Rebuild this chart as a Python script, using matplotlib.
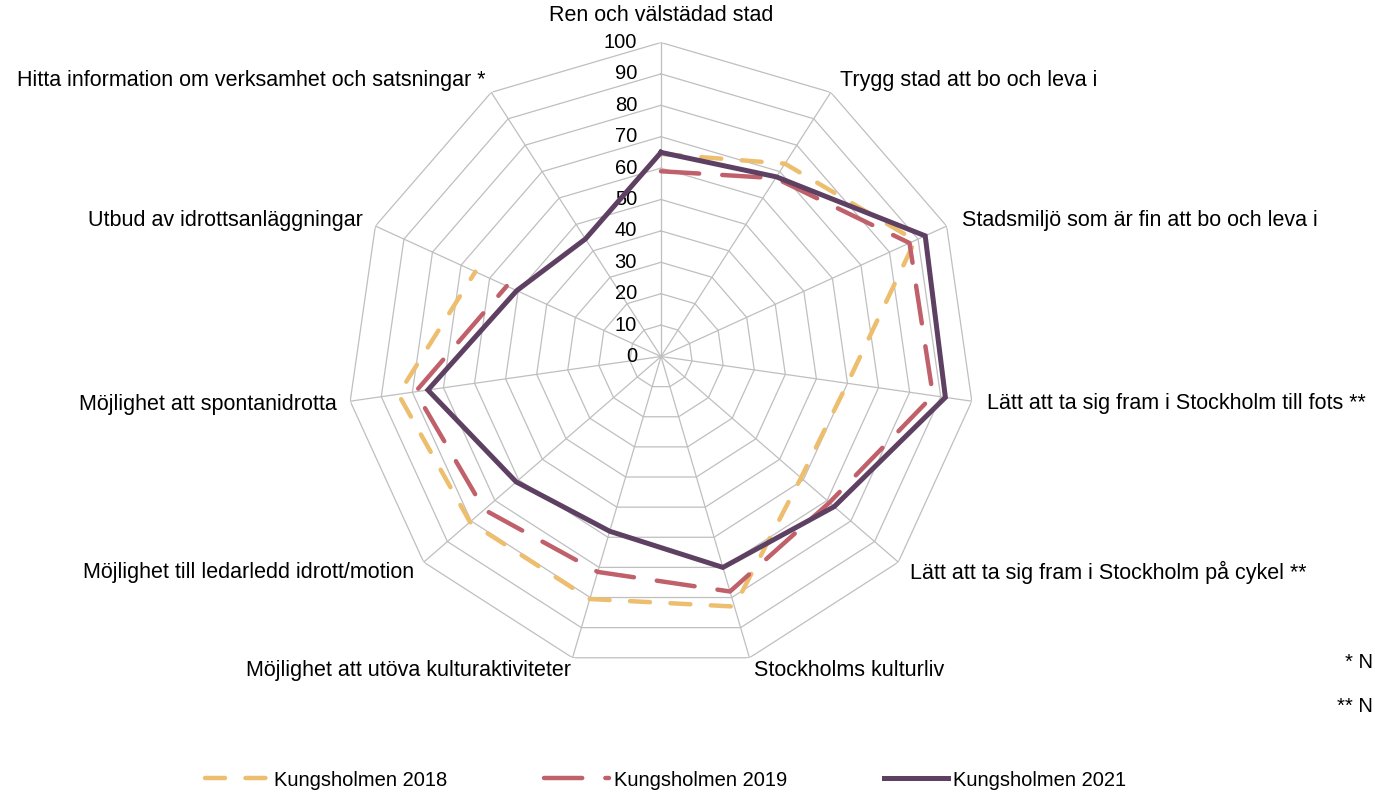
import numpy as np
import matplotlib
matplotlib.use("Agg")
import matplotlib.pyplot as plt

plt.rcParams["font.family"] = ["Liberation Sans", "DejaVu Sans"]

# ---- data (clockwise from top) ----
categories = [
    "Ren och välstädad stad",
    "Trygg stad att bo och leva i",
    "Stadsmiljö som är fin att bo och leva i",
    "Lätt att ta sig fram i Stockholm till fots **",
    "Lätt att ta sig fram i Stockholm på cykel **",
    "Stockholms kulturliv",
    "Möjlighet att utöva kulturaktiviteter",
    "Möjlighet till ledarledd idrott/motion",
    "Möjlighet att spontanidrotta",
    "Utbud av idrottsanläggningar",
    "Hitta information om verksamhet och satsningar *",
]
k2018 = [64.5, 73, 89, 60, 59, 83, 80.5, 80.5, 84.5, 65, np.nan]
k2019 = [59, 67.5, 87, 87.5, 71, 78, 71.5, 74.5, 79, 54, np.nan]
k2021 = [65, 68, 92.5, 91.5, 73, 70, 58, 61, 75, 50.5, 44.5]
series_names = ["Kungsholmen 2018", "Kungsholmen 2019", "Kungsholmen 2021"]
radial_ticks = [0, 10, 20, 30, 40, 50, 60, 70, 80, 90, 100]

colors = ["#EDBE6E", "#C0606A", "#5E4062"]
grid_col = "#BFBFBF"
fs = 14.5       # numbers, legend, notes
fs_cat = 15.5   # category labels

n = len(categories)
theta = np.arange(n) * 2 * np.pi / n
theta_c = np.append(theta, theta[0])

fig = plt.figure(figsize=(13.75, 7.94), dpi=100)
cx, cy, R = 661, 356.5, 314
W, H = 1375, 794
ax = fig.add_axes([(cx - R) / W, (H - cy - R) / H, 2 * R / W, 2 * R / H],
                  projection="polar")
ax.set_theta_zero_location("N")
ax.set_theta_direction(-1)
ax.set_ylim(0, 100)
ax.grid(False)
ax.set_xticks([])
ax.set_yticks([])
ax.spines["polar"].set_visible(False)
ax.patch.set_visible(False)

# polygon grid
for v in radial_ticks[1:]:
    ax.plot(theta_c, [v] * (n + 1), color=grid_col, lw=0.9, zorder=1)
for t in theta:
    ax.plot([t, t], [0, 100], color=grid_col, lw=0.9, zorder=1)

# radial labels
for v in radial_ticks:
    ax.annotate(str(v), xy=(0, v), xytext=(-24, 0), textcoords="offset pixels",
                ha="right", va="center", fontsize=fs, zorder=2)

# series
def closed(vals):
    return np.append(vals, vals[0])

l18, = ax.plot(theta_c, closed(k2018), color=colors[0], lw=3.2,
               dashes=(4.5, 4.6), dash_capstyle="round", zorder=3,
               label=series_names[0])
l19, = ax.plot(theta_c, closed(k2019), color=colors[1], lw=3.2,
               dashes=(8.6, 5.2), dash_capstyle="round", zorder=4,
               label=series_names[1])
l21, = ax.plot(theta_c, closed(k2021), color=colors[2], lw=3.6,
               solid_joinstyle="miter", zorder=5, label=series_names[2])

# category labels: offsets (px) from outer vertex
offsets = [(0, 27, "center"), (9, 12, "left"), (15, 6, "left"), (15, -2, "left"),
           (12, -10, "left"), (5, -13, "left"), (-2, -13, "right"),
           (-10, -10, "right"), (-13, -3, "right"), (-13, 6, "right"),
           (-6, 12, "right")]
for t, lab, (dx, dy, ha) in zip(theta, categories, offsets):
    ax.annotate(lab, xy=(t, 100), xytext=(dx, dy), textcoords="offset pixels",
                ha=ha, va="center", fontsize=fs_cat, annotation_clip=False)

fig.text(1373 / W, 1 - 663 / H, "* N", ha="right", va="center", fontsize=fs)
fig.text(1373 / W, 1 - 706 / H, "** N", ha="right", va="center", fontsize=fs)

fig.legend(handles=[l18, l19, l21], loc="center", bbox_to_anchor=(0.484, 1 - 780 / H),
           ncol=3, frameon=False, fontsize=fs, handlelength=3.2,
           handletextpad=0.25, columnspacing=4.8)

fig.savefig("out.png", dpi=100)
